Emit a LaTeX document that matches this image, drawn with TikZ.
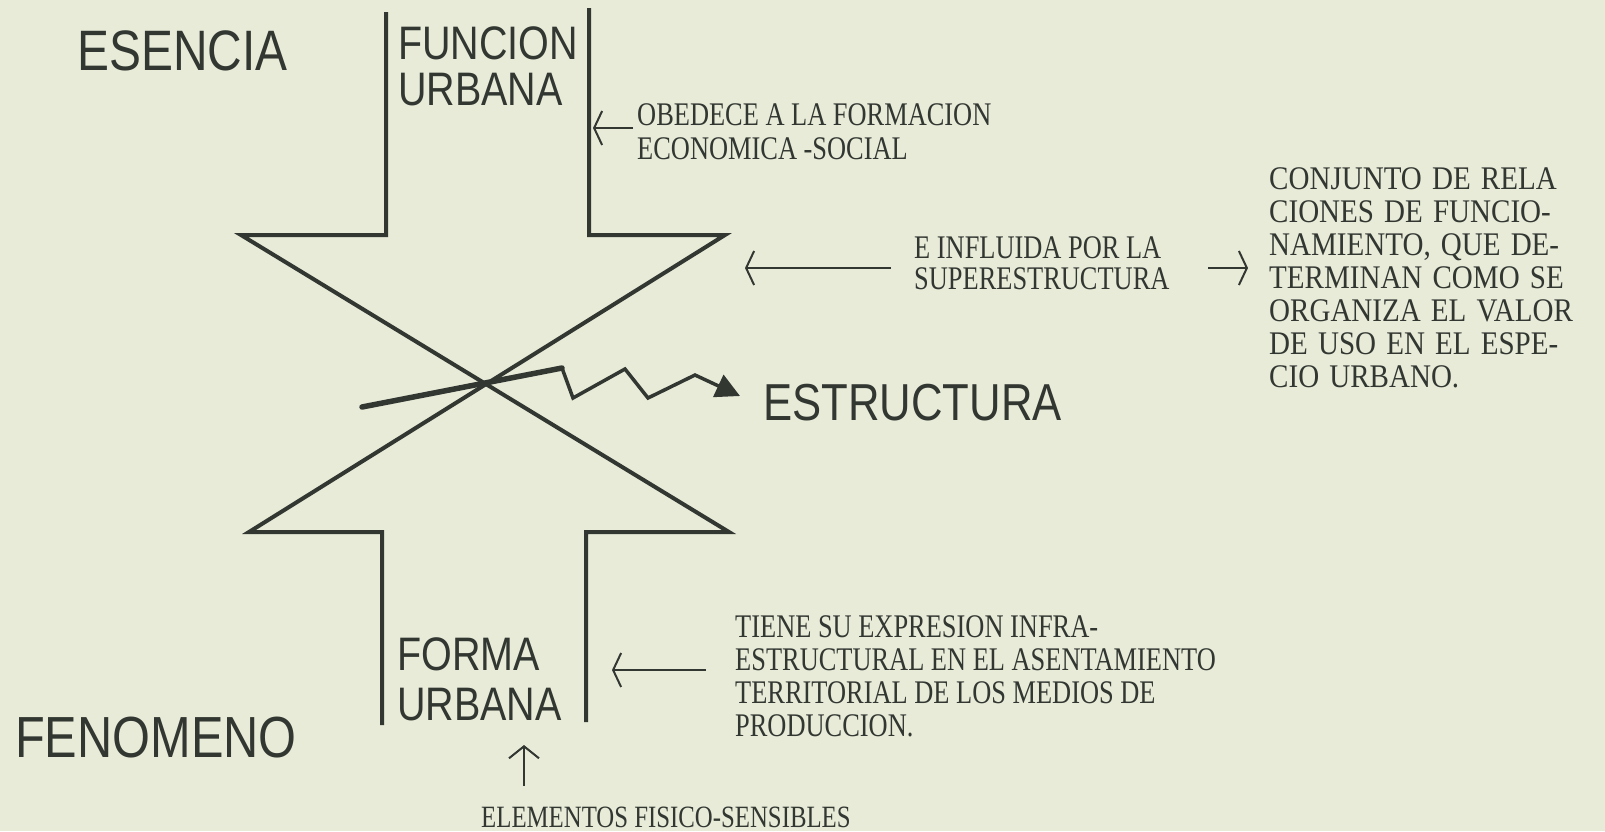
\documentclass[tikz,border=0pt]{standalone}
\usepackage{fontspec}
\setmainfont{Liberation Serif}
\newfontfamily\handfont[FakeStretch=0.84]{Liberation Sans}
\newfontfamily\typefont[FakeStretch=0.8]{Liberation Serif}
\newfontfamily\widetype[FakeStretch=0.88,WordSpace=1.4]{Liberation Serif}
\usetikzlibrary{arrows.meta}
\definecolor{paper}{RGB}{231,235,216}
\definecolor{ink}{RGB}{50,55,50}
\newcommand\rows[1]{\begin{tabular}[t]{@{}l@{}}#1\end{tabular}}

\begin{document}
\begin{tikzpicture}[x=1pt,y=-1pt,
    outline/.style={draw=ink,line width=4pt,line join=miter},
    big/.style={text=ink,inner sep=0pt,anchor=base west},
    typed/.style={text=ink,inner sep=0pt,anchor=base west,
        font=\typefont\fontsize{33}{33}\selectfont},
    pointer/.style={draw=ink,line width=2pt,-{Straight Barb[length=8pt,width=34pt]}},
    zig/.style={draw=ink,line width=3.5pt,line join=miter}]
    \useasboundingbox (0,0) rectangle (1605,831);
    \fill[paper] (0,0) rectangle (1605,831);

    \draw[outline] (386,12) -- (386,235) -- (241,235) -- (729,532) -- (586,532) -- (586,722);
    \draw[outline] (589,8) -- (589,235) -- (725,235) -- (249,532) -- (382,532) -- (382,725);

    \draw[ink,line width=5.5pt,line cap=round] (362,407) -- (562,368);
    \draw[zig,-{Triangle[length=24pt,width=24pt]}] (562,368) -- (573,398) -- (625,369)
        -- (648,398) -- (695,375) -- (740,396);

    \node[big,font=\handfont\fontsize{57}{46}\selectfont] (esencia) at (77,70) {ESENCIA};
    \node[big,font=\handfont\fontsize{47}{46}\selectfont] (funcion) at (398,59) {\rows{FUNCION\\URBANA}};
    \node[big,font=\handfont\fontsize{47}{50}\selectfont] (forma) at (397,670) {\rows{FORMA\\URBANA}};
    \node[big,font=\handfont\fontsize{58}{58}\selectfont] (fenomeno) at (15,757) {FENOMENO};
    \node[big,font=\handfont\fontsize{52}{52}\selectfont] (estructura) at (763,420) {ESTRUCTURA};

    \node[typed,font=\typefont\fontsize{33}{34}\selectfont] (obedece) at (637,125)
        {\rows{OBEDECE A LA FORMACION\\ECONOMICA -SOCIAL}};
    \node[typed,font=\typefont\fontsize{33}{31}\selectfont] (influida) at (914,258)
        {\rows{E INFLUIDA POR LA\\SUPERESTRUCTURA}};
    \node[typed,font=\widetype\fontsize{33}{33}\selectfont] (conjunto) at (1269,189)
        {\rows{CONJUNTO DE RELA\\CIONES DE FUNCIO-\\NAMIENTO, QUE DE-\\TERMINAN COMO SE\\ORGANIZA EL VALOR\\DE USO EN EL ESPE-\\CIO URBANO.}};
    \node[typed] (tiene) at (735,637)
        {\rows{TIENE SU EXPRESION INFRA-\\ESTRUCTURAL EN EL ASENTAMIENTO\\TERRITORIAL DE LOS MEDIOS DE\\PRODUCCION.}};
    \node[typed,font=\typefont\fontsize{31}{33}\selectfont] (elementos) at (481,827) {ELEMENTOS FISICO-SENSIBLES};

    \coordinate (obtail) at (633,128);
    \coordinate (obtip) at (593,128);
    \coordinate (intail) at (891,268);
    \coordinate (intip) at (745,268);
    \coordinate (outtail) at (1208,268);
    \coordinate (outtip) at (1248,268);
    \coordinate (titail) at (706,670);
    \coordinate (titip) at (612,670);
    \coordinate (eltail) at (524,786);
    \coordinate (eltip) at (524,745);

    \draw[pointer] (obtail) -- (obtip);
    \draw[pointer] (intail) -- (intip);
    \draw[pointer] (outtail) -- (outtip);
    \draw[pointer] (titail) -- (titip);
    \draw[pointer,-{Straight Barb[length=12pt,width=30pt]}] (eltail) -- (eltip);
\end{tikzpicture}
\end{document}
